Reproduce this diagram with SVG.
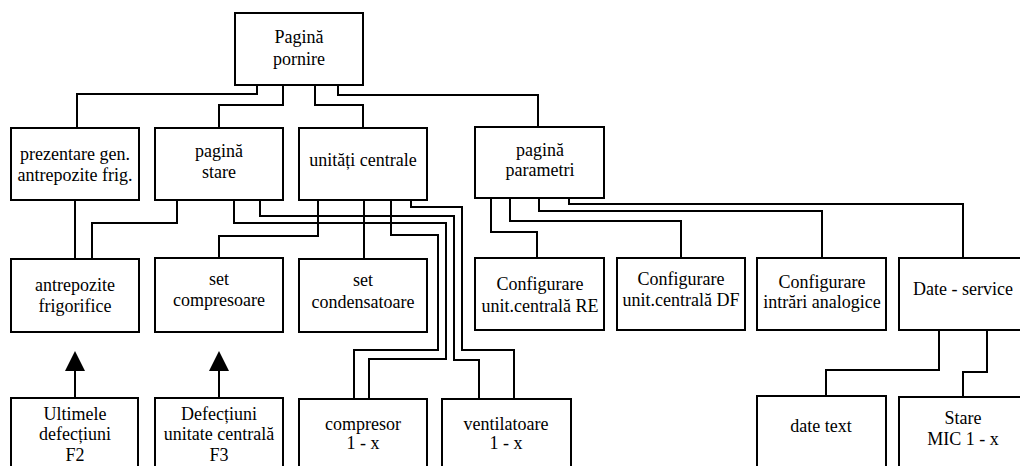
<svg xmlns="http://www.w3.org/2000/svg" width="1020" height="466" viewBox="0 0 1020 466">
  <style>
    .box { fill: #ffffff; stroke: #000000; stroke-width: 2; }
    .wire { fill: none; stroke: #000000; stroke-width: 2; }
    .head { fill: #000000; stroke: none; }
    text { font-family: "Liberation Serif", "Times New Roman", serif; font-size: 18px; fill: #000000; text-anchor: middle; }
  </style>
  <rect width="1020" height="466" fill="#ffffff"/>

  <!-- connectors -->
  <g id="connectors">
    <!-- Pagină pornire to level 2 -->
    <path class="wire" d="M257 85 V94 H77 V128"/>
    <path class="wire" d="M283 85 V105 H219 V128"/>
    <path class="wire" d="M315 85 V105 H363 V128"/>
    <path class="wire" d="M338 85 V95 H538 V127"/>
    <!-- prezentare / pagină stare to antrepozite -->
    <path class="wire" d="M75 200 V259"/>
    <path class="wire" d="M177 200 V223 H92 V259"/>
    <!-- pagină stare to compresor / ventilatoare -->
    <path class="wire" d="M234 200 V223 H446 V359 H369 V399"/>
    <path class="wire" d="M260 200 V216 H454 V360 H479 V399"/>
    <!-- unități centrale -->
    <path class="wire" d="M318 200 V236 H219 V258"/>
    <path class="wire" d="M364 200 V259"/>
    <path class="wire" d="M391 200 V235 H438 V350 H354 V399"/>
    <path class="wire" d="M411 200 V207 H462 V350 H514 V399"/>
    <!-- pagină parametri -->
    <path class="wire" d="M491 198 V232 H537 V258"/>
    <path class="wire" d="M510 198 V221 H681 V258"/>
    <path class="wire" d="M539 198 V211 H822 V258"/>
    <path class="wire" d="M569 198 V204 H963 V258"/>
    <!-- Date - service -->
    <path class="wire" d="M939 330 V370 H826 V396"/>
    <path class="wire" d="M987 330 V372 H963 V397"/>
    <!-- fault pages pointing up -->
    <path class="wire" d="M75 398 V368"/>
    <polygon class="head" points="75,351 65,371 85,371"/>
    <path class="wire" d="M219 398 V368"/>
    <polygon class="head" points="219,351 209,371 229,371"/>
  </g>

  <g id="pagina-pornire">
    <rect class="box" x="235" y="13" width="128" height="72"/>
    <text x="299" y="43">Pagină</text>
    <text x="299" y="65">pornire</text>
  </g>

  <g id="prezentare">
    <rect class="box" x="11" y="128" width="128" height="72"/>
    <text x="75" y="160">prezentare gen.</text>
    <text x="75" y="181">antrepozite frig.</text>
  </g>
  <g id="pagina-stare">
    <rect class="box" x="155" y="128" width="128" height="72"/>
    <text x="219" y="157">pagină</text>
    <text x="219" y="178">stare</text>
  </g>
  <g id="unitati-centrale">
    <rect class="box" x="299" y="128" width="128" height="72"/>
    <text x="363" y="166">unități centrale</text>
  </g>
  <g id="pagina-parametri">
    <rect class="box" x="475" y="127" width="129" height="71"/>
    <text x="540" y="156">pagină</text>
    <text x="540" y="176">parametri</text>
  </g>

  <g id="antrepozite">
    <rect class="box" x="11" y="259" width="128" height="73"/>
    <text x="75" y="291">antrepozite</text>
    <text x="75" y="312">frigorifice</text>
  </g>
  <g id="set-compresoare">
    <rect class="box" x="155" y="258" width="128" height="74"/>
    <text x="219" y="285">set</text>
    <text x="219" y="306">compresoare</text>
  </g>
  <g id="set-condensatoare">
    <rect class="box" x="299" y="259" width="128" height="73"/>
    <text x="363" y="286">set</text>
    <text x="363" y="308">condensatoare</text>
  </g>
  <g id="config-re">
    <rect class="box" x="475" y="258" width="129" height="72"/>
    <text x="540" y="290">Configurare</text>
    <text x="540" y="312">unit.centrală RE</text>
  </g>
  <g id="config-df">
    <rect class="box" x="617" y="258" width="128" height="72"/>
    <text x="681" y="285">Configurare</text>
    <text x="681" y="306">unit.centrală DF</text>
  </g>
  <g id="config-intrari">
    <rect class="box" x="757" y="258" width="129" height="72"/>
    <text x="822" y="288">Configurare</text>
    <text x="822" y="308">intrări analogice</text>
  </g>
  <g id="date-service">
    <rect class="box" x="899" y="258" width="128" height="72"/>
    <text x="963" y="295">Date - service</text>
  </g>

  <g id="ultimele-defectiuni">
    <rect class="box" x="11" y="398" width="127" height="90"/>
    <text x="75" y="420">Ultimele</text>
    <text x="75" y="440">defecțiuni</text>
    <text x="75" y="461">F2</text>
  </g>
  <g id="defectiuni-unitate">
    <rect class="box" x="155" y="398" width="128" height="90"/>
    <text x="219" y="420">Defecțiuni</text>
    <text x="219" y="440">unitate centrală</text>
    <text x="219" y="461">F3</text>
  </g>
  <g id="compresor">
    <rect class="box" x="299" y="399" width="128" height="90"/>
    <text x="363" y="430">compresor</text>
    <text x="363" y="449">1 - x</text>
  </g>
  <g id="ventilatoare">
    <rect class="box" x="442" y="399" width="129" height="90"/>
    <text x="506" y="430">ventilatoare</text>
    <text x="506" y="449">1 - x</text>
  </g>
  <g id="date-text">
    <rect class="box" x="757" y="396" width="129" height="90"/>
    <text x="821" y="432">date text</text>
  </g>
  <g id="stare-mic">
    <rect class="box" x="899" y="397" width="128" height="90"/>
    <text x="963" y="424">Stare</text>
    <text x="963" y="445">MIC 1 - x</text>
  </g>
</svg>
